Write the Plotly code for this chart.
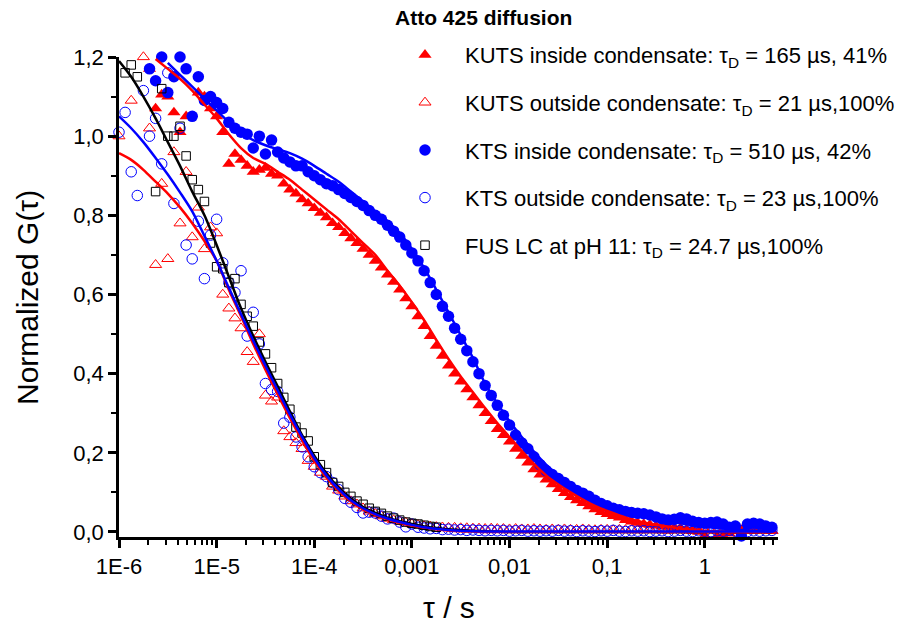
import plotly.graph_objects as go

# ---------------- data ----------------
# lag-time grid of the correlator (s)
TAU = [
    1.000e-6, 1.155e-6, 1.334e-6, 1.540e-6, 1.778e-6, 2.054e-6, 2.371e-6, 2.738e-6,
    3.162e-6, 3.652e-6, 4.217e-6, 4.870e-6, 5.623e-6, 6.494e-6, 7.499e-6, 8.660e-6,
    1.000e-5, 1.155e-5, 1.334e-5, 1.540e-5, 1.778e-5, 2.054e-5, 2.371e-5, 2.738e-5,
    3.162e-5, 3.652e-5, 4.217e-5, 4.870e-5, 5.623e-5, 6.494e-5, 7.499e-5, 8.660e-5,
    1.000e-4, 1.155e-4, 1.334e-4, 1.540e-4, 1.778e-4, 2.054e-4, 2.371e-4, 2.738e-4,
    3.162e-4, 3.652e-4, 4.217e-4, 4.870e-4, 5.623e-4, 6.494e-4, 7.499e-4, 8.660e-4,
    1.000e-3, 1.155e-3, 1.334e-3, 1.540e-3, 1.778e-3, 2.054e-3, 2.371e-3, 2.738e-3,
    3.162e-3, 3.652e-3, 4.217e-3, 4.870e-3, 5.623e-3, 6.494e-3, 7.499e-3, 8.660e-3,
    1.000e-2, 1.155e-2, 1.334e-2, 1.540e-2, 1.778e-2, 2.054e-2, 2.371e-2, 2.738e-2,
    3.162e-2, 3.652e-2, 4.217e-2, 4.870e-2, 5.623e-2, 6.494e-2, 7.499e-2, 8.660e-2,
    1.000e-1, 1.155e-1, 1.334e-1, 1.540e-1, 1.778e-1, 2.054e-1, 2.371e-1, 2.738e-1,
    3.162e-1, 3.652e-1, 4.217e-1, 4.870e-1, 5.623e-1, 6.494e-1, 7.499e-1, 8.660e-1,
    1.000, 1.155, 1.334, 1.540, 1.778, 2.054, 2.371, 2.738,
    3.162, 3.652, 4.217, 4.870,
]

# KUTS inside condensate (filled red triangles), starts at TAU[5]
KUTS_IN_START = 5
KUTS_IN = [
    1.17, 1.07, 1.105, 1.10, 1.06, 1.01, 1.05, 1.215, 1.11, 1.10, 1.07,
    1.05, 1.01, 0.93, 0.955, 0.94, 0.925, 0.91, 0.915, 0.92, 0.905, 0.90,
    0.88, 0.865, 0.855, 0.84, 0.83, 0.818, 0.806, 0.795, 0.78, 0.77, 0.755,
    0.742, 0.73, 0.715, 0.70, 0.685, 0.668, 0.65, 0.632, 0.612, 0.59, 0.57,
    0.545, 0.52, 0.495, 0.47, 0.445, 0.42, 0.40, 0.38, 0.36, 0.34, 0.32,
    0.30, 0.28, 0.26, 0.245, 0.228, 0.21, 0.192, 0.175, 0.158, 0.145, 0.132,
    0.12, 0.108, 0.098, 0.088, 0.08, 0.073, 0.065, 0.057, 0.05, 0.045, 0.04,
    0.036, 0.03, 0.026, 0.023, 0.02, 0.018, 0.016, 0.014, 0.013, 0.011, 0.01,
    0.006, 0.003, 0.0, -0.01, -0.013, -0.012, -0.01, -0.004, 0.002, 0.004,
    0.006, 0.005, 0.006, 0.004, 0.003,
]

# KUTS outside condensate (open red triangles), starts at TAU[0]
KUTS_OUT_START = 0
KUTS_OUT = [
    1.00, None, 1.09, None, 1.20, 1.02, 0.675, 0.88, 0.69, 0.96, 0.78, 0.91,
    0.745, 0.82, 0.715, 0.77, 0.755, 0.60, 0.565, 0.54, 0.515, 0.455, 0.43,
    0.50, 0.345, 0.33, 0.34, 0.255, 0.24, 0.225, 0.21, 0.18, 0.165, 0.15,
    0.14, 0.115, 0.105, 0.09, 0.078, 0.07, 0.06, 0.052, 0.046, 0.04, 0.034,
    0.03, 0.027, 0.024, 0.02,
    0.018, 0.015, 0.014, 0.013, 0.012, 0.011, 0.011, 0.010, 0.010, 0.009,
    0.009, 0.008, 0.009, 0.008, 0.008, 0.007, 0.008, 0.007, 0.007, 0.008,
    0.007, 0.006, 0.007, 0.006, 0.007, 0.006, 0.006, 0.007, 0.006, 0.005,
    0.006, 0.006, 0.005, 0.006, 0.005, 0.006, 0.005, 0.005, 0.006, 0.005,
    0.005, 0.004, 0.005, 0.005, 0.004, 0.005, 0.004, 0.005, 0.004, 0.004,
    0.005, 0.004, 0.004, 0.005, 0.004, 0.003, 0.004, 0.005, 0.003,
]

# KTS inside condensate (filled blue circles), starts at TAU[5]
KTS_IN_START = 5
KTS_IN = [
    1.17, 1.14, 1.20, 1.11, 1.15, 1.20, 1.17, 1.05, 1.15, 1.09, 1.10,
    1.085, 1.07, 1.035, 1.02, 1.01, 1.005, 0.97, 1.0, 0.955, 0.99, 0.96,
    0.945, 0.935, 0.925, 0.925, 0.91, 0.90, 0.89, 0.88, 0.875, 0.865, 0.855,
    0.845, 0.835, 0.825, 0.812, 0.80, 0.79, 0.775, 0.76, 0.745, 0.725, 0.705,
    0.685, 0.66, 0.63, 0.60, 0.57, 0.545, 0.515, 0.487, 0.458, 0.43, 0.40,
    0.37, 0.345, 0.32, 0.295, 0.27, 0.245, 0.225, 0.21, 0.19, 0.17, 0.155,
    0.145, 0.135, 0.125, 0.115, 0.105, 0.098, 0.09, 0.08, 0.072, 0.066, 0.06,
    0.056, 0.052, 0.049, 0.047, 0.046, 0.043, 0.038, 0.033, 0.030, 0.032, 0.036,
    0.033, 0.027, 0.024, 0.022, 0.024, 0.025, 0.02, 0.012, 0.015, -0.01,
    0.02, 0.022, 0.02, 0.015, 0.012,
]

# KTS outside condensate (open blue circles), starts at TAU[0]
KTS_OUT_START = 0
KTS_OUT = [
    1.01, 1.06, 0.91, 0.85, 1.115, 1.0, 1.045, 0.93, 1.16, 0.83, 1.02, 0.725,
    0.69, 0.785, 0.64, 0.75, 0.79, 0.68, 0.63, 0.605, 0.66, 0.495, 0.555,
    0.475, 0.375, 0.36, 0.355, 0.275, 0.29, 0.24, 0.215, 0.19, 0.165, 0.15,
    0.14, 0.125, 0.107, 0.085, 0.075, 0.062, 0.048, 0.05, 0.048, 0.04, 0.033,
    0.035, 0.025, 0.013, 0.02,
    0.012, 0.01, 0.008, 0.009, 0.006, 0.007, 0.005, 0.006, 0.004, 0.005,
    0.004, 0.003, 0.004, 0.003, 0.004, 0.002, 0.003, 0.004, 0.002, 0.003,
    0.002, 0.003, 0.002, 0.004, 0.002, 0.003, 0.001, 0.003, 0.002, 0.001,
    0.003, 0.002, 0.004, 0.002, 0.001, 0.003, 0.002, 0.003, 0.001, 0.002,
    0.003, 0.001, 0.002, 0.004, 0.002, 0.001, 0.003, 0.002, 0.001, 0.003,
    0.002, 0.004, 0.002, 0.003, 0.001, 0.003, 0.002, 0.003, 0.004,
]

# FUS LC at pH 11 (open black squares), starts at TAU[1]
FUS_START = 1
FUS = [
    1.16, 1.18, 1.15, None, None, 0.86, 1.12, 1.0, 1.0, 1.025, 0.95, 0.89,
    0.865, 0.835, 0.73, 0.67, 0.665, 0.63, 0.64, 0.575, 0.545, 0.52, 0.48,
    0.45, 0.415, 0.375, 0.34, 0.31, 0.265, 0.25, 0.23, 0.19, 0.17, 0.15,
    0.125, 0.115, 0.1, 0.09, 0.078, 0.07, 0.06, 0.052, 0.047, 0.04, 0.035,
    0.03, 0.025, 0.022, 0.02, 0.017, 0.014, 0.012,
]

# fit curves, on a coarser lag grid
FIT_TAU = [
    1.000e-6, 1.334e-6, 1.778e-6, 2.371e-6, 3.162e-6, 4.217e-6, 5.623e-6, 7.499e-6,
    1.000e-5, 1.334e-5, 1.778e-5, 2.371e-5, 3.162e-5, 4.217e-5, 5.623e-5, 7.499e-5,
    1.000e-4, 1.334e-4, 1.778e-4, 2.371e-4, 3.162e-4, 4.217e-4, 5.623e-4, 7.499e-4,
    1.000e-3, 1.334e-3, 1.778e-3, 2.371e-3, 3.162e-3, 4.217e-3, 5.623e-3, 7.499e-3,
    1.000e-2, 1.334e-2, 1.778e-2, 2.371e-2, 3.162e-2, 4.217e-2, 5.623e-2, 7.499e-2,
    1.000e-1, 1.334e-1, 1.778e-1, 2.371e-1, 3.162e-1, 4.217e-1, 5.623e-1, 7.499e-1,
    1.000, 1.334, 1.778, 2.371, 3.162, 4.217, 4.870,
]

FIT_KUTS_IN_START = 3
FIT_KUTS_IN = [
    1.195, 1.17, 1.145, 1.115, 1.08, 1.045, 1.005, 0.97, 0.945, 0.93, 0.91,
    0.89, 0.865, 0.84, 0.815, 0.79, 0.76, 0.73, 0.70, 0.66, 0.622, 0.58,
    0.535, 0.485, 0.437, 0.393, 0.353, 0.313, 0.275, 0.24, 0.205, 0.172,
    0.143, 0.12, 0.1, 0.082, 0.066, 0.053, 0.042, 0.032, 0.024, 0.018, 0.013,
    0.009, 0.006, 0.003, 0.001, 0.0, 0.0, 0.0, 0.0, 0.0,
]

FIT_KUTS_OUT_START = 0
FIT_KUTS_OUT = [
    0.957, 0.94, 0.915, 0.885, 0.855, 0.82, 0.78, 0.735, 0.685, 0.612, 0.545,
    0.475, 0.41, 0.348, 0.288, 0.232, 0.18, 0.138, 0.104, 0.077, 0.057,
    0.043, 0.032, 0.023, 0.016, 0.011, 0.007, 0.004, 0.002, 0.001, 0.0, 0.0,
    0.0, 0.0, 0.0, 0.0, 0.0, 0.0, 0.0, 0.0, 0.0, 0.0, 0.0, 0.0, 0.0, 0.0,
    0.0, 0.0, 0.0, 0.0, 0.0, 0.0, 0.0, 0.0, 0.0,
]

FIT_KTS_IN_START = 4
FIT_KTS_IN = [
    1.185, 1.155, 1.125, 1.095, 1.065, 1.035, 1.01, 0.99, 0.977, 0.967, 0.957,
    0.943, 0.925, 0.905, 0.885, 0.86, 0.835, 0.81, 0.785, 0.755, 0.715,
    0.667, 0.612, 0.555, 0.497, 0.44, 0.375, 0.325, 0.28, 0.24, 0.203, 0.17,
    0.143, 0.12, 0.1, 0.084, 0.07, 0.058, 0.048, 0.04, 0.034, 0.028, 0.022,
    0.017, 0.013, 0.01, 0.007, 0.005, 0.003, 0.002, 0.001,
]

FIT_KTS_OUT_START = 0
FIT_KTS_OUT = [
    1.05, 1.02, 0.985, 0.945, 0.903, 0.858, 0.81, 0.748, 0.685, 0.617, 0.55,
    0.483, 0.42, 0.358, 0.297, 0.24, 0.187, 0.143, 0.108, 0.08, 0.06, 0.045,
    0.034, 0.025, 0.018, 0.012, 0.008, 0.005, 0.003, 0.002, 0.001, 0.001,
    0.001, 0.001, 0.001, 0.001, 0.001, 0.001, 0.001, 0.001, 0.001, 0.001,
    0.001, 0.001, 0.001, 0.001, 0.001, 0.001, 0.001, 0.001, 0.001, 0.001,
    0.001, 0.001, 0.001,
]

FIT_FUS_START = 0
FIT_FUS = [
    1.19, 1.15, 1.10, 1.045, 0.985, 0.925, 0.86, 0.80, 0.725, 0.645, 0.565,
    0.495, 0.43, 0.368, 0.305, 0.245, 0.193, 0.148, 0.112, 0.084, 0.063,
    0.048, 0.036, 0.027, 0.02, 0.014, 0.01, 0.007, 0.005, 0.003, 0.002, 0.001,
    0.0, 0.0, 0.0, 0.0, 0.0, 0.0, 0.0, 0.0, 0.0, 0.0, 0.0, 0.0, 0.0, 0.0,
    0.0, 0.0, 0.0, 0.0, 0.0, 0.0, 0.0, 0.0, 0.0,
]

LEGEND_NAMES = [
    "KUTS inside condensate: τ<sub>D</sub> = 165 µs, 41%",
    "KUTS outside condensate: τ<sub>D</sub> = 21 µs,100%",
    "KTS inside condensate: τ<sub>D</sub> = 510 µs, 42%",
    "KTS outside condensate: τ<sub>D</sub> = 23 µs,100%",
    "FUS LC at pH 11: τ<sub>D</sub> = 24.7 µs,100%",
]

X_TICKVALS = [1e-6, 1e-5, 1e-4, 1e-3, 1e-2, 1e-1, 1]
X_TICKTEXT = ["1E-6", "1E-5", "1E-4", "0,001", "0,01", "0,1", "1"]
Y_TICKVALS = [0, 0.2, 0.4, 0.6, 0.8, 1.0, 1.2]
Y_TICKTEXT = ["0,0", "0,2", "0,4", "0,6", "0,8", "1,0", "1,2"]

# ---------------- figure ----------------
FONT = "Liberation Sans, Arial, sans-serif"
RED = "#ff0000"
BLUE = "#0000ff"
BLACK = "#000000"
X_RANGE = [-6, 0.75]
Y_RANGE = [-0.0127, 1.2]


def xs(grid, start, vals):
    return grid[start:start + len(vals)]


fig = go.Figure()

data_series = [
    (KUTS_IN_START, KUTS_IN, dict(symbol="triangle-up", size=11.5, color=RED, line=dict(width=0))),
    (KUTS_OUT_START, KUTS_OUT, dict(symbol="triangle-up-open", size=10.5, color=RED, line=dict(width=1))),
    (KTS_IN_START, KTS_IN, dict(symbol="circle", size=11.5, color=BLUE, line=dict(width=0))),
    (KTS_OUT_START, KTS_OUT, dict(symbol="circle-open", size=10.5, color=BLUE, line=dict(width=1))),
    (FUS_START, FUS, dict(symbol="square-open", size=8.5, color=BLACK, line=dict(width=1))),
]
for i, (start, vals, mk) in enumerate(data_series):
    fig.add_trace(go.Scatter(
        x=xs(TAU, start, vals), y=vals, mode="markers", marker=mk,
        name=LEGEND_NAMES[i], legendgroup=f"g{i}", cliponaxis=False,
    ))

fit_series = [
    (FIT_FUS_START, FIT_FUS, BLACK),
    (FIT_KUTS_OUT_START, FIT_KUTS_OUT, RED),
    (FIT_KUTS_IN_START, FIT_KUTS_IN, RED),
    (FIT_KTS_IN_START, FIT_KTS_IN, BLUE),
    (FIT_KTS_OUT_START, FIT_KTS_OUT, BLUE),
]
for start, vals, col in fit_series:
    fig.add_trace(go.Scatter(
        x=xs(FIT_TAU, start, vals), y=vals, mode="lines",
        line=dict(color=col, width=2.5, shape="spline", smoothing=0.8),
        showlegend=False, hoverinfo="skip", cliponaxis=False,
    ))

x_minor = [m * 10.0 ** e for e in range(-6, 1) for m in range(2, 10) if m * 10.0 ** e < 5.6]
y_minor = [0.1, 0.3, 0.5, 0.7, 0.9, 1.1]

fig.update_layout(
    width=904, height=628,
    margin=dict(l=119, r=126, t=57, b=91, pad=0, autoexpand=False),
    paper_bgcolor="white", plot_bgcolor="white",
    font=dict(family=FONT, color="black"),
    showlegend=True,
    legend=dict(
        x=(385 - 119) / 659, y=(537 - 34) / 480, xanchor="left", yanchor="top",
        font=dict(family=FONT, size=22, color="black"),
        bgcolor="rgba(0,0,0,0)", borderwidth=0,
        traceorder="grouped", tracegroupgap=16, itemwidth=70,
    ),
    xaxis=dict(
        type="log", range=X_RANGE,
        showline=True, linecolor="black", linewidth=2.5,
        ticks="outside", ticklen=8, tickwidth=2.5, tickcolor="black",
        tickmode="array", tickvals=X_TICKVALS, ticktext=X_TICKTEXT,
        tickfont=dict(family=FONT, size=22),
        showgrid=False, zeroline=False,
        minor=dict(ticks="outside", ticklen=5, tickwidth=2, tickcolor="black",
                   tickmode="array", tickvals=x_minor, showgrid=False),
    ),
    yaxis=dict(
        range=Y_RANGE,
        showline=True, linecolor="black", linewidth=2.5,
        ticks="outside", ticklen=8, tickwidth=2.5, tickcolor="black",
        tickmode="array", tickvals=Y_TICKVALS, ticktext=Y_TICKTEXT,
        tickfont=dict(family=FONT, size=22),
        showgrid=False, zeroline=False,
        minor=dict(ticks="outside", ticklen=5, tickwidth=2, tickcolor="black",
                   tickmode="array", tickvals=y_minor, showgrid=False),
    ),
    annotations=[
        dict(text="<b>Atto 425 diffusion</b>", xref="paper", yref="paper",
             x=(483 - 119) / 659, y=(537 - 17) / 480, xanchor="center", yanchor="middle",
             showarrow=False,
             font=dict(family="Liberation Sans Narrow, Arial Narrow, Liberation Sans, Arial", size=21)),
        dict(text="Normalized G(τ)", xref="paper", yref="paper",
             x=(27 - 119) / 659, y=0.5, xanchor="center", yanchor="middle",
             textangle=-90, showarrow=False, font=dict(family=FONT, size=30)),
        dict(text="τ / s", xref="paper", yref="paper",
             x=0.5, y=(537 - 607) / 480, xanchor="center", yanchor="middle",
             showarrow=False, font=dict(family=FONT, size=30)),
    ],
)

fig.write_html("out.html")
